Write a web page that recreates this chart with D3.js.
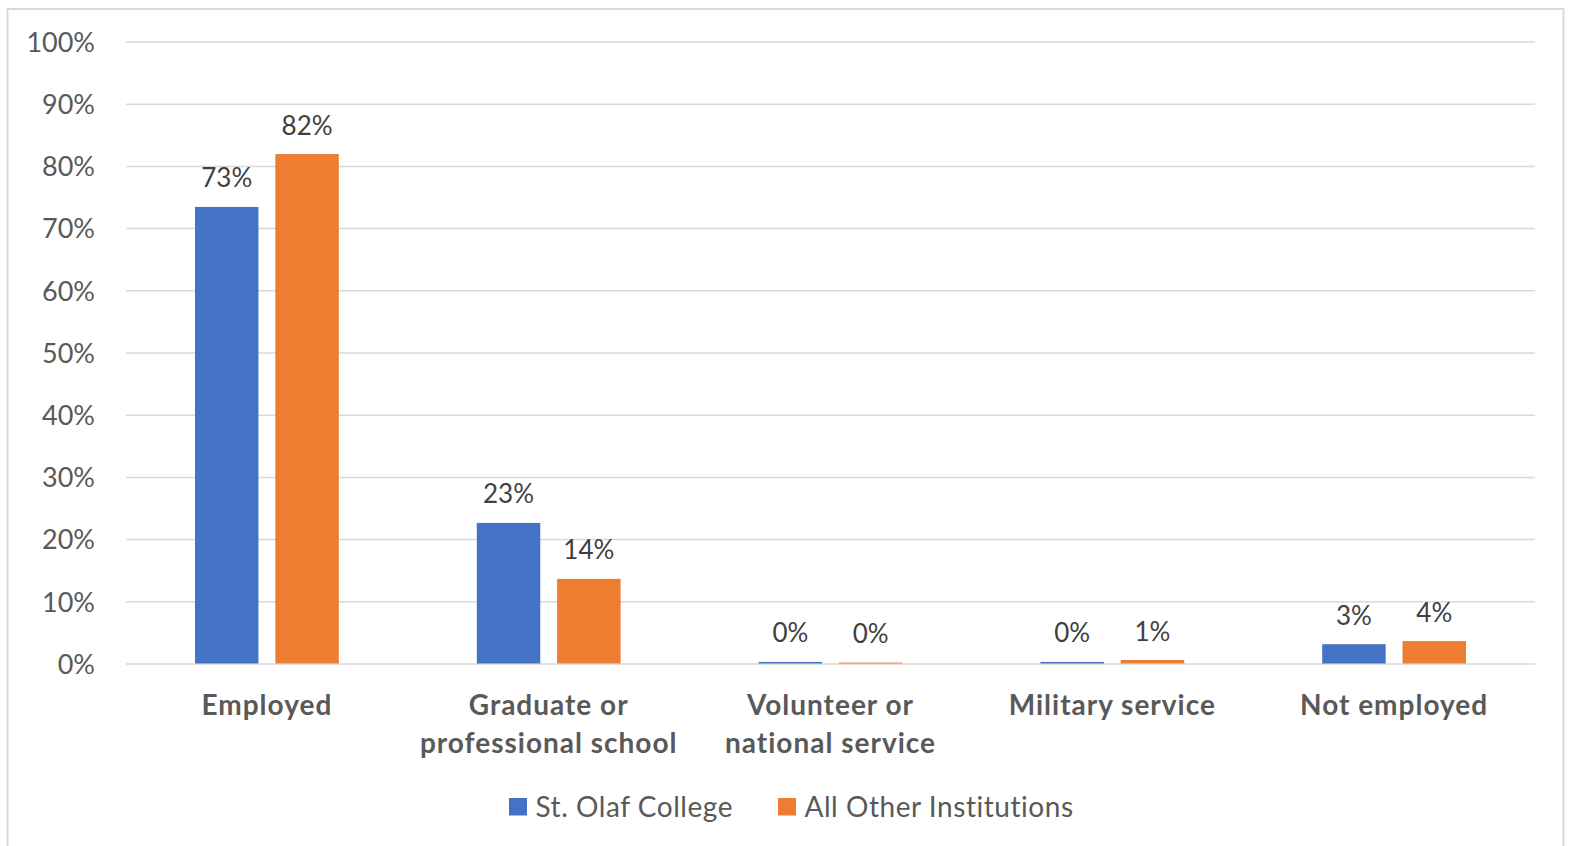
<!DOCTYPE html>
<html>
<head>
<meta charset="utf-8">
<script src="https://cdn.jsdelivr.net/npm/d3@7"></script>
<style>
  html, body { margin: 0; padding: 0; background: #ffffff; }
  svg { display: block; }
</style>
</head>
<body>
<svg id="chart" width="1571" height="846"></svg>
<script>
// ---- data ----
const categories = ["Employed", "Graduate or professional school", "Volunteer or national service", "Military service", "Not employed"];
const categoryLines = [["Employed"], ["Graduate or", "professional school"], ["Volunteer or", "national service"], ["Military service"], ["Not employed"]];
const seriesNames = ["St. Olaf College", "All Other Institutions"];
const stOlafValues = [73.4, 22.6, 0.25, 0.25, 3.1];
const otherValues = [81.9, 13.6, 0.15, 0.56, 3.6];
const yTicks = [0, 10, 20, 30, 40, 50, 60, 70, 80, 90, 100];
const seriesColors = ["#4472C4", "#ED7D31"];

const seriesValues = [stOlafValues, otherValues];

const svg = d3.select("#chart");

// chart border
svg.append("rect")
  .attr("x", 7.5).attr("y", 9)
  .attr("width", 1556).attr("height", 860)
  .attr("fill", "#ffffff")
  .attr("stroke", "#d9d9d9").attr("stroke-width", 2);

const plotLeft = 126, plotRight = 1535, plotTop = 41.5, plotBottom = 663.5;

const y = d3.scaleLinear().domain([0, 100]).range([plotBottom, plotTop]);
const x0 = d3.scaleBand().domain(categories).range([plotLeft, plotRight]).padding(0);
const groupHalf = 71.9;
const x1 = d3.scaleBand().domain(seriesNames).range([-groupHalf, groupHalf]).paddingInner(0.21);

// gridlines
const yAxis = d3.axisLeft(y).tickValues(yTicks).tickSize(-(plotRight - plotLeft)).tickFormat(d => d + "%");
const gAxis = svg.append("g").attr("transform", `translate(${plotLeft},0)`).call(yAxis);
gAxis.select(".domain").remove();
gAxis.selectAll(".tick line").attr("stroke", "#d9d9d9").attr("stroke-width", 1.5);
gAxis.selectAll(".tick text")
  .attr("x", -31).attr("dy", "0.36em")
  .attr("fill", "#595959")
  .style("font-family", "Lato, 'Open Sans', sans-serif")
  .style("font-size", "27px");

// bars
const groups = svg.append("g").selectAll("g")
  .data(categories)
  .join("g")
  .attr("transform", d => `translate(${x0(d) + x0.bandwidth() / 2},0)`);

groups.each(function(cat, ci) {
  const g = d3.select(this);
  seriesNames.forEach((s, si) => {
    const v = seriesValues[si][ci];
    g.append("rect")
      .attr("x", x1(s))
      .attr("y", y(v))
      .attr("width", x1.bandwidth())
      .attr("height", y(0) - y(v))
      .attr("fill", seriesColors[si]);
    g.append("text")
      .attr("x", x1(s) + x1.bandwidth() / 2)
      .attr("y", y(v) - 19.5)
      .attr("text-anchor", "middle")
      .attr("fill", "#404040")
      .style("font-family", "Lato, 'Open Sans', sans-serif")
      .style("font-size", "26px")
      .text(Math.round(v) + "%");
  });
  // category label
  const t = g.append("text")
    .attr("text-anchor", "middle")
    .attr("fill", "#595959")
    .style("font-family", "Lato, 'Open Sans', sans-serif")
    .style("font-size", "28px")
    .style("letter-spacing", "1px")
    .style("font-weight", "bold");
  categoryLines[ci].forEach((line, li) => {
    t.append("tspan").attr("x", 0).attr("y", 714.5 + li * 38.5).text(line);
  });
});

// legend
const legend = svg.append("g");
const legendX = [509, 778];
seriesNames.forEach((s, si) => {
  legend.append("rect")
    .attr("x", legendX[si]).attr("y", 798)
    .attr("width", 18).attr("height", 17.5)
    .attr("fill", seriesColors[si]);
  legend.append("text")
    .attr("x", legendX[si] + 26.5).attr("y", 816.5)
    .attr("fill", "#595959")
    .style("font-family", "Lato, 'Open Sans', sans-serif")
    .style("font-size", "28px")
    .style("letter-spacing", "0.55px")
    .text(s);
});
</script>
</body>
</html>
